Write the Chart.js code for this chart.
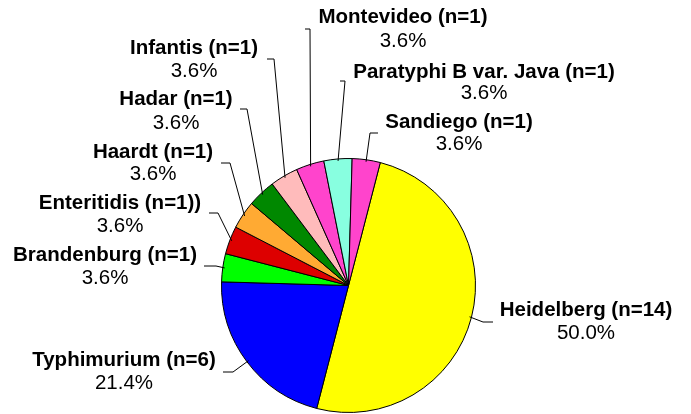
<!DOCTYPE html>
<html>
<head>
<meta charset="utf-8">
<script src="https://cdn.jsdelivr.net/npm/chart.js@4"></script>
<style>
  html, body { margin: 0; padding: 0; background: #fff; }
  #wrap { width: 691px; height: 414px; position: relative; }
</style>
</head>
<body>
<div id="wrap"><canvas id="pie"></canvas></div>
<script>
// Salmonella serotypes - pie chart
const serotypes = [
  'Heidelberg (n=14)',
  'Typhimurium (n=6)',
  'Brandenburg (n=1)',
  'Enteritidis (n=1))',
  'Haardt (n=1)',
  'Hadar (n=1)',
  'Infantis (n=1)',
  'Montevideo (n=1)',
  'Paratyphi B var. Java (n=1)',
  'Sandiego (n=1)'
];
const counts = [14, 6, 1, 1, 1, 1, 1, 1, 1, 1];
const sliceColors = ['#FFFF00', '#0000FF', '#00FF00', '#DD0000', '#FFAA33',
  '#008800', '#FFBBBB', '#FF44CC', '#88FFE0', '#FF44CC'];

// label placement: name centre, percent centre, leader elbow and end (x, y)
const labelLayout = [
  { x: 586, y: 310, py: 333, ex: 483, ey: 322, hx: 493 },
  { x: 124, y: 360, py: 383, ex: 233, ey: 372, hx: 223 },
  { x: 105, y: 255, py: 278, ex: 216, ey: 266, hx: 204 },
  { x: 120, y: 203, py: 226, ex: 218, ey: 213, hx: 209 },
  { x: 153, y: 152, py: 174, ex: 230, ey: 163, hx: 221 },
  { x: 176, y: 99, py: 123, ex: 247, ey: 109, hx: 240 },
  { x: 194, y: 48, py: 71, ex: 274, ey: 59, hx: 267 },
  { x: 403, y: 17, py: 41, ex: 310, ey: 29, hx: 305 },
  { x: 484, y: 72, py: 93, ex: 345, ey: 81, hx: 340 },
  { x: 459, y: 122, py: 144, ex: 370, ey: 133, hx: 378 }
];

const total = counts.reduce((a, b) => a + b, 0);

const labelPlugin = {
  id: 'sliceLabels',
  afterDraw(chart) {
    const ctx = chart.ctx;
    const arcs = chart.getDatasetMeta(0).data;
    ctx.save();
    arcs.forEach((arc, i) => {
      const p = arc.getProps(['x', 'y', 'startAngle', 'endAngle', 'outerRadius'], true);
      const mid = (p.startAngle + p.endAngle) / 2;
      const r = p.outerRadius - 2;
      const sx = p.x + Math.cos(mid) * r;
      const sy = p.y + Math.sin(mid) * r;
      const L = labelLayout[i];
      ctx.strokeStyle = '#000';
      ctx.lineWidth = 1;
      ctx.beginPath();
      ctx.moveTo(sx, sy);
      ctx.lineTo(L.ex, L.ey);
      ctx.lineTo(L.hx, L.ey);
      ctx.stroke();

      ctx.fillStyle = '#000';
      ctx.textAlign = 'center';
      ctx.textBaseline = 'middle';
      ctx.font = 'bold 20.5px "Liberation Sans", Arial, sans-serif';
      ctx.fillText(serotypes[i], L.x, L.y);
      ctx.font = '20.5px "Liberation Sans", Arial, sans-serif';
      ctx.fillText((counts[i] / total * 100).toFixed(1) + '%', L.x, L.py);
    });
    ctx.restore();
  }
};

new Chart(document.getElementById('pie'), {
  type: 'pie',
  data: {
    labels: serotypes,
    datasets: [{
      data: counts,
      backgroundColor: sliceColors,
      borderColor: '#000',
      borderWidth: 1
    }]
  },
  options: {
    responsive: true,
    maintainAspectRatio: false,
    animation: false,
    rotation: 14.5,
    layout: { padding: { top: 158, bottom: 1, left: 221, right: 215 } },
    plugins: {
      legend: { display: false },
      tooltip: { enabled: false }
    }
  },
  plugins: [labelPlugin]
});
</script>
</body>
</html>
